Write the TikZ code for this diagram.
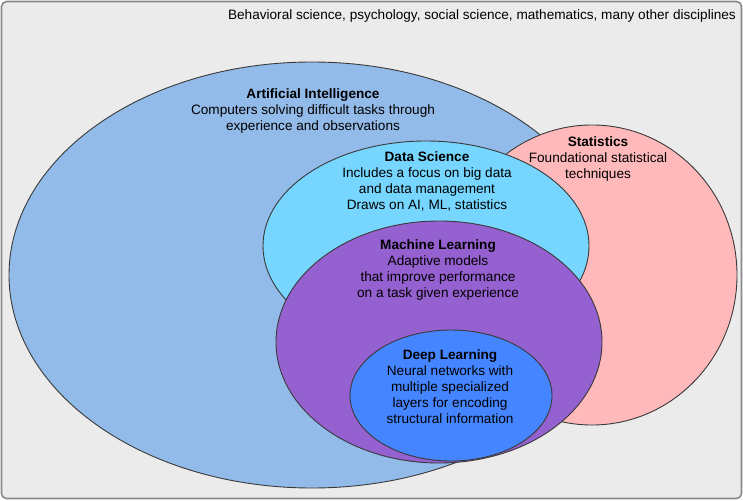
\documentclass[tikz,border=0pt]{standalone}
\usepackage{fontspec}
\setmainfont{Liberation Sans}
\usetikzlibrary{shapes.geometric}
\definecolor{bgc}{HTML}{EBEBEB}
\definecolor{framec}{HTML}{8A8A8A}
\definecolor{aic}{HTML}{93BBE9}
\definecolor{statc}{HTML}{FFB9BA}
\definecolor{dsc}{HTML}{76D6FF}
\definecolor{mlc}{HTML}{9560CF}
\definecolor{dlc}{HTML}{4585FF}
\definecolor{edgec}{HTML}{3A3A3A}
\tikzset{
  blob/.style={ellipse, draw=edgec, line width=0.9pt, inner sep=0pt},
  lbl/.style={align=center, inner sep=0pt, font=\fontsize{13.6}{16}\selectfont, text=black}
}
\begin{document}
\begin{tikzpicture}[x=1pt,y=-1pt]
\useasboundingbox (0,0) rectangle (743,500);
\node[draw=framec, fill=bgc, line width=1.6pt, rounded corners=5pt, minimum width=740pt, minimum height=497pt, inner sep=0pt] (frame) at (371.5,250) {};
\node[blob, fill=aic, minimum width=606pt, minimum height=426pt] (ai) at (312,275) {};
\node[blob, fill=statc, minimum width=290pt, minimum height=300pt] (stat) at (592,275) {};
\node[blob, fill=dsc, minimum width=326pt, minimum height=210pt] (ds) at (426,246) {};
\node[blob, fill=mlc, minimum width=326pt, minimum height=242pt] (ml) at (439,342) {};
\node[blob, fill=dlc, minimum width=202pt, minimum height=131pt] (dl) at (451,395.5) {};
\node[lbl, anchor=base east] (top) at (736,20) {Behavioral science, psychology, social science, mathematics, many other disciplines};
\node[lbl] (ait) at (313,111) {\textbf{Artificial Intelligence}\\Computers solving difficult tasks through\\experience and observations};
\node[lbl] (statt) at (598,159) {\textbf{Statistics}\\Foundational statistical\\techniques};
\node[lbl] (dst) at (427,181) {\textbf{Data Science}\\Includes a focus on big data\\and data management\\Draws on AI, ML, statistics};
\node[lbl] (mlt) at (438,270) {\textbf{Machine Learning}\\Adaptive models\\that improve performance\\on a task given experience};
\node[lbl] (dlt) at (450,387) {\textbf{Deep Learning}\\Neural networks with\\multiple specialized\\layers for encoding\\structural information};
\end{tikzpicture}
\end{document}
